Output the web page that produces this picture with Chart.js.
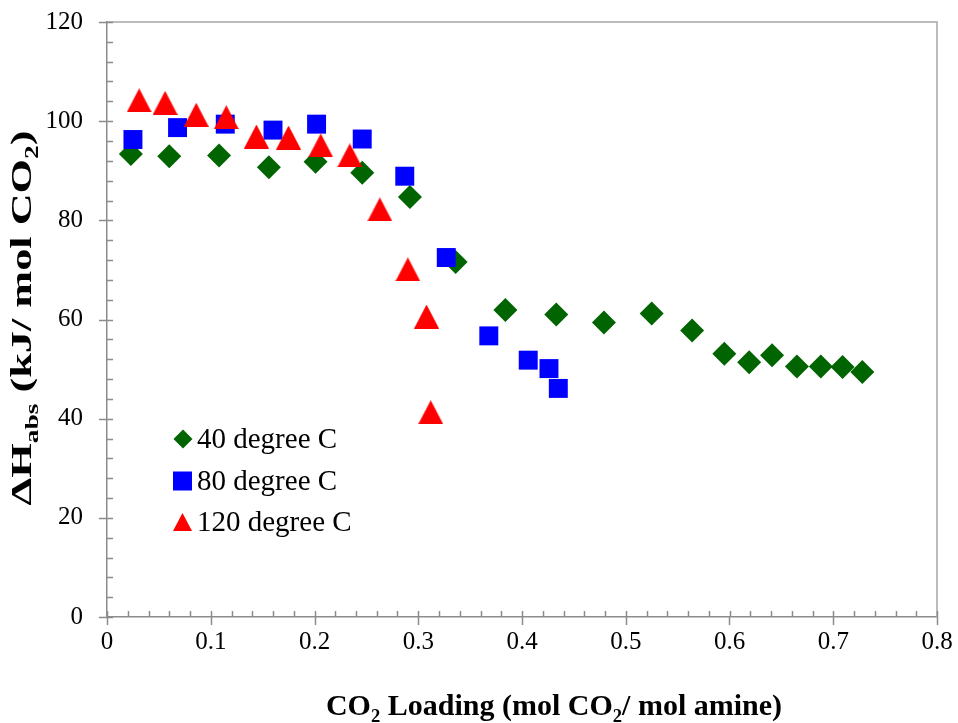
<!DOCTYPE html>
<html>
<head>
<meta charset="utf-8">
<script src="https://cdn.jsdelivr.net/npm/chart.js@4.4.0/dist/chart.umd.min.js"></script>
<style>
html, body { margin: 0; padding: 0; background: #fff; }
</style>
</head>
<body>
<canvas id="heatChart" width="958" height="723"></canvas>
<script>
// CO2 loading (mol CO2 / mol amine) and heat of absorption (kJ / mol CO2)
var loading40 = [0.023, 0.060, 0.108, 0.156, 0.201, 0.246, 0.292, 0.336, 0.384, 0.433, 0.479, 0.525, 0.564, 0.595, 0.619, 0.641, 0.665, 0.688, 0.709, 0.728];
var heat40    = [93.4, 92.9, 93.1, 90.7, 91.8, 89.6, 84.7, 71.6, 61.9, 61.0, 59.4, 61.2, 57.8, 53.1, 51.4, 52.8, 50.5, 50.5, 50.4, 49.4];

var loading80 = [0.025, 0.068, 0.114, 0.160, 0.202, 0.246, 0.287, 0.327, 0.368, 0.406, 0.426, 0.435];
var heat80    = [96.3, 98.7, 99.4, 98.2, 99.4, 96.4, 88.9, 72.5, 56.7, 51.8, 50.1, 46.1];

var loading120 = [0.031, 0.056, 0.086, 0.115, 0.144, 0.175, 0.206, 0.234, 0.263, 0.290, 0.308, 0.312];
var heat120    = [104.2, 103.7, 101.3, 100.8, 96.9, 96.7, 95.1, 93.1, 82.2, 70.1, 60.6, 41.3];

var seriesNames = ['40 degree C', '80 degree C', '120 degree C'];

var xTickValues = [0, 0.1, 0.2, 0.3, 0.4, 0.5, 0.6, 0.7, 0.8];
var xTickLabels = ['0', '0.1', '0.2', '0.3', '0.4', '0.5', '0.6', '0.7', '0.8'];
var yTickValues = [0, 20, 40, 60, 80, 100, 120];
var yTickLabels = ['0', '20', '40', '60', '80', '100', '120'];

var GREEN = '#006400', BLUE = '#0000ff', RED = '#ff0000';
var SERIF = "'Liberation Serif', 'Times New Roman', serif";

function toPoints(xs, ys) {
    return xs.map(function (x, i) { return {x: x, y: ys[i]}; });
}

// excel style triangle marker (a bit taller than the built-in one)
function triangleImage(w, h, color) {
    var c = document.createElement('canvas');
    c.width = w; c.height = h;
    var g = c.getContext('2d');
    g.fillStyle = color;
    g.beginPath();
    g.moveTo(w / 2, 0);
    g.lineTo(w, h);
    g.lineTo(0, h);
    g.closePath();
    g.fill();
    return c;
}

function richWidth(ctx, parts, size) {
    var total = 0;
    parts.forEach(function (p) {
        ctx.font = 'bold ' + (p[1] ? size * 0.62 : size) + 'px ' + SERIF;
        total += ctx.measureText(p[0]).width;
    });
    return total;
}

// text with subscripts: parts = [[text, isSub], ...]
function drawRich(ctx, parts, cx, baseY, size) {
    var x = cx - richWidth(ctx, parts, size) / 2;
    ctx.textAlign = 'left';
    ctx.textBaseline = 'alphabetic';
    parts.forEach(function (p) {
        ctx.font = 'bold ' + (p[1] ? size * 0.62 : size) + 'px ' + SERIF;
        ctx.fillText(p[0], x, p[1] ? baseY + size * 0.22 : baseY);
        x += ctx.measureText(p[0]).width;
    });
}

var xTitle = [['CO', 0], ['2', 1], [' Loading (mol CO', 0], ['2', 1], ['/ mol amine)', 0]];
var yTitle = [['\u0394H', 0], ['abs', 1], [' (kJ/ mol CO', 0], ['2', 1], [')', 0]];

var axisDecor = {
    id: 'axisDecor',
    afterDraw: function (chart) {
        var ctx = chart.ctx, a = chart.chartArea;
        var xs = chart.scales.x, ys = chart.scales.y;
        ctx.save();
        // plot area frame (top / right)
        ctx.strokeStyle = '#a6a6a6';
        ctx.lineWidth = 1.5;
        ctx.beginPath();
        ctx.moveTo(a.left, a.top);
        ctx.lineTo(a.right, a.top);
        ctx.lineTo(a.right, a.bottom);
        ctx.stroke();

        ctx.strokeStyle = '#8c8c8c';
        ctx.lineWidth = 1.5;
        ctx.beginPath();
        var v, p;
        for (v = 0; v <= 0.8001; v += 0.02) {
            p = Math.round(xs.getPixelForValue(v)) + 0.5;
            ctx.moveTo(p, a.bottom);
            ctx.lineTo(p, a.bottom - 6);
        }
        xTickValues.forEach(function (t) {
            p = Math.round(xs.getPixelForValue(t)) + 0.5;
            ctx.moveTo(p, a.bottom);
            ctx.lineTo(p, a.bottom + 8);
        });
        for (v = 0; v <= 120.01; v += 4) {
            p = Math.round(ys.getPixelForValue(v)) + 0.5;
            ctx.moveTo(a.left, p);
            ctx.lineTo(a.left + 6, p);
        }
        yTickValues.forEach(function (t) {
            p = Math.round(ys.getPixelForValue(t)) + 0.5;
            ctx.moveTo(a.left, p);
            ctx.lineTo(a.left - 8, p);
        });
        ctx.stroke();

        // axis titles
        ctx.fillStyle = '#000';
        drawRich(ctx, xTitle, 554, 715, 30);
        ctx.save();
        ctx.translate(31, 318);
        ctx.rotate(-Math.PI / 2);
        var stretch = 375 / richWidth(ctx, yTitle, 30);
        ctx.scale(stretch, 1);
        drawRich(ctx, yTitle, 0, 0, 30);
        ctx.restore();

        // legend
        var rows = [439, 481, 522];
        ctx.fillStyle = GREEN;
        ctx.beginPath();
        ctx.moveTo(183, rows[0] - 9.5); ctx.lineTo(192.5, rows[0]);
        ctx.lineTo(183, rows[0] + 9.5); ctx.lineTo(173.5, rows[0]);
        ctx.closePath(); ctx.fill();
        ctx.fillStyle = BLUE;
        ctx.fillRect(173, rows[1] - 9.5, 19, 19);
        ctx.fillStyle = RED;
        ctx.beginPath();
        ctx.moveTo(182.5, rows[2] - 9); ctx.lineTo(192, rows[2] + 9);
        ctx.lineTo(173, rows[2] + 9); ctx.closePath(); ctx.fill();

        ctx.fillStyle = '#000';
        ctx.font = '29px ' + SERIF;
        ctx.textAlign = 'left';
        ctx.textBaseline = 'middle';
        seriesNames.forEach(function (name, i) {
            ctx.fillText(name, 197, rows[i] + 1);
        });
        ctx.restore();
    }
};

var ctx = document.getElementById('heatChart');
var heatChart = new Chart(ctx, {
    type: 'scatter',
    data: {
        datasets: [{
            label: seriesNames[0],
            data: toPoints(loading40, heat40),
            pointStyle: 'rectRot',
            pointRadius: 12,
            backgroundColor: GREEN,
            borderColor: GREEN,
            borderWidth: 0,
            order: 3
        }, {
            label: seriesNames[1],
            data: toPoints(loading80, heat80),
            pointStyle: 'rect',
            pointRadius: 13.4,
            backgroundColor: BLUE,
            borderColor: BLUE,
            borderWidth: 0,
            order: 2
        }, {
            label: seriesNames[2],
            data: toPoints(loading120, heat120),
            pointStyle: triangleImage(25, 24, RED),
            pointRadius: 12,
            backgroundColor: RED,
            borderColor: RED,
            borderWidth: 0,
            order: 1
        }]
    },
    options: {
        responsive: false,
        animation: false,
        events: [],
        layout: { padding: { left: 0, top: 22, right: 21, bottom: 0 } },
        plugins: {
            legend: { display: false },
            tooltip: { enabled: false }
        },
        scales: {
            x: {
                type: 'linear',
                min: 0,
                max: 0.8,
                afterFit: function (s) {
                    s.height = 106;
                    s.paddingLeft = 0; s.paddingRight = 0;
                },
                afterBuildTicks: function (s) {
                    s.ticks = xTickValues.map(function (v) { return {value: v}; });
                },
                grid: { display: false, drawTicks: false },
                border: { display: true, color: '#8c8c8c', width: 1.5 },
                ticks: {
                    padding: 10,
                    color: '#000',
                    maxRotation: 0,
                    font: { family: SERIF, size: 25 },
                    callback: function (val, i) { return xTickLabels[i]; }
                }
            },
            y: {
                type: 'linear',
                min: 0,
                max: 120,
                afterFit: function (s) {
                    s.width = 107;
                    s.paddingTop = 0; s.paddingBottom = 0;
                },
                afterBuildTicks: function (s) {
                    s.ticks = yTickValues.map(function (v) { return {value: v}; });
                },
                grid: { display: false, drawTicks: false },
                border: { display: true, color: '#8c8c8c', width: 1.5 },
                ticks: {
                    padding: 24,
                    color: '#000',
                    font: { family: SERIF, size: 25 },
                    callback: function (val, i) { return yTickLabels[i]; }
                }
            }
        }
    },
    plugins: [axisDecor]
});
</script>
</body>
</html>
